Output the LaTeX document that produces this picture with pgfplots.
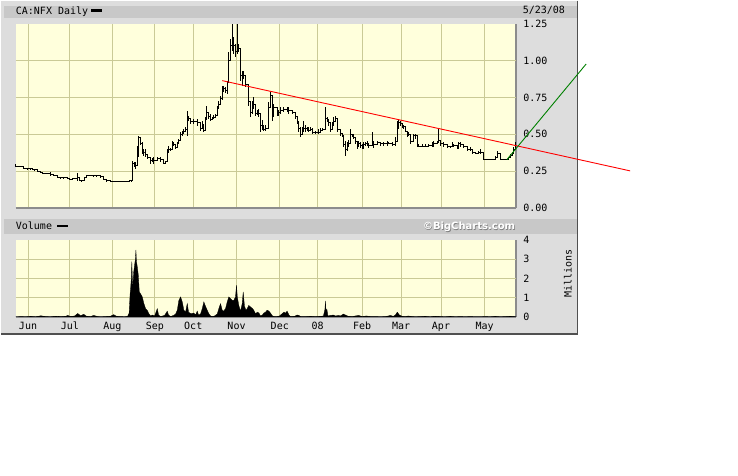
\documentclass[border=0pt]{standalone}
\usepackage{pgfplots}
\pgfplotsset{compat=1.18}
\usepackage{pgfplotstable}
\usepackage{fontspec}
\setmainfont{DejaVu Sans Mono}
\newfontfamily\bcfont{DejaVu Sans}
\definecolor{bggray}{HTML}{DDDDDD}
\definecolor{bargray}{HTML}{C8C8C8}
\definecolor{plotbg}{HTML}{FFFFDC}
\definecolor{gridcol}{HTML}{CACA96}
\definecolor{axgray}{HTML}{8C8C8C}
\definecolor{bordergray}{HTML}{505050}
\definecolor{trendgreen}{HTML}{008000}

% x = chart position (month grid: Jun=27.3 ... May=484.3), prices in CAD
\pgfplotstableread{
x lo hi c
15 0.281 0.299 0.281
19 0.281 0.281 0.281
23 0.266 0.281 0.266
27 0.266 0.268 0.266
30 0.266 0.268 0.268
32 0.262 0.272 0.262
34 0.255 0.262 0.259
37 0.249 0.259 0.249
40 0.243 0.249 0.243
42 0.232 0.246 0.236
45 0.236 0.240 0.236
48 0.236 0.240 0.236
50 0.224 0.243 0.225
53 0.220 0.225 0.220
57 0.209 0.220 0.209
60 0.205 0.212 0.207
63 0.205 0.207 0.205
67 0.198 0.205 0.198
69 0.191 0.198 0.191
72 0.198 0.205 0.202
75 0.198 0.205 0.202
77 0.186 0.236 0.205
79 0.186 0.205 0.190
81 0.182 0.190 0.186
84 0.186 0.205 0.205
86 0.213 0.222 0.220
89 0.220 0.225 0.222
93 0.218 0.225 0.220
96 0.215 0.222 0.218
100 0.209 0.216 0.213
103 0.191 0.213 0.195
106 0.184 0.191 0.186
110 0.180 0.186 0.182
114 0.178 0.182 0.180
118 0.178 0.182 0.180
122 0.180 0.184 0.180
126 0.178 0.184 0.181
129 0.180 0.188 0.184
131 0.180 0.192 0.186
132 0.198 0.322 0.299
134 0.276 0.310 0.299
135 0.268 0.315 0.290
137 0.344 0.423 0.400
138 0.344 0.491 0.480
140 0.428 0.480 0.440
142 0.367 0.446 0.380
143 0.355 0.403 0.380
145 0.344 0.403 0.360
147 0.335 0.355 0.345
150 0.299 0.344 0.320
152 0.310 0.340 0.330
153 0.299 0.344 0.320
157 0.322 0.344 0.335
160 0.310 0.344 0.330
163 0.299 0.322 0.305
165 0.310 0.320 0.315
167 0.335 0.403 0.380
168 0.390 0.423 0.400
170 0.390 0.410 0.395
172 0.423 0.457 0.440
173 0.423 0.450 0.430
175 0.403 0.423 0.410
177 0.423 0.450 0.440
178 0.437 0.471 0.455
180 0.480 0.514 0.500
182 0.491 0.525 0.505
183 0.505 0.539 0.520
185 0.514 0.547 0.530
187 0.491 0.661 0.620
188 0.593 0.627 0.610
190 0.572 0.606 0.590
193 0.572 0.606 0.590
197 0.559 0.606 0.580
200 0.525 0.559 0.540
202 0.547 0.593 0.560
203 0.514 0.572 0.525
205 0.572 0.615 0.600
206 0.615 0.694 0.650
208 0.606 0.640 0.620
210 0.593 0.640 0.600
212 0.600 0.620 0.610
213 0.610 0.630 0.615
215 0.615 0.640 0.630
217 0.627 0.694 0.680
218 0.674 0.728 0.700
220 0.706 0.762 0.740
222 0.730 0.830 0.800
223 0.785 0.830 0.810
225 0.780 0.820 0.800
227 0.776 0.864 0.850
228 0.909 1.056 1.000
230 1.022 1.148 1.100
232 1.067 1.250 1.150
233 1.047 1.157 1.100
235 1.022 1.115 1.060
237 1.047 1.250 1.080
238 1.056 1.115 1.080
240 0.864 1.022 0.900
242 0.830 0.932 0.880
243 0.877 0.932 0.900
245 0.818 0.890 0.840
248 0.694 0.751 0.720
250 0.615 0.683 0.650
252 0.640 0.728 0.680
253 0.674 0.751 0.700
255 0.627 0.661 0.640
257 0.630 0.665 0.650
258 0.615 0.674 0.640
260 0.514 0.615 0.560
262 0.530 0.600 0.560
263 0.525 0.547 0.530
265 0.525 0.560 0.540
268 0.627 0.717 0.680
270 0.742 0.785 0.760
272 0.593 0.717 0.620
273 0.615 0.706 0.680
277 0.627 0.683 0.660
278 0.627 0.665 0.650
280 0.640 0.683 0.660
283 0.650 0.683 0.670
287 0.650 0.683 0.665
288 0.640 0.683 0.660
292 0.640 0.650 0.645
295 0.606 0.640 0.620
297 0.572 0.627 0.590
298 0.514 0.593 0.540
300 0.480 0.547 0.500
302 0.505 0.547 0.520
303 0.525 0.593 0.540
305 0.514 0.560 0.540
307 0.520 0.547 0.530
308 0.514 0.547 0.525
310 0.525 0.547 0.530
312 0.505 0.540 0.515
315 0.505 0.525 0.515
318 0.505 0.535 0.515
320 0.514 0.540 0.525
322 0.525 0.540 0.530
325 0.593 0.683 0.610
327 0.581 0.615 0.600
328 0.559 0.606 0.580
330 0.514 0.581 0.530
332 0.547 0.581 0.560
333 0.572 0.615 0.590
335 0.593 0.627 0.610
337 0.514 0.547 0.530
340 0.491 0.525 0.505
342 0.480 0.505 0.490
343 0.412 0.457 0.430
345 0.356 0.457 0.400
347 0.390 0.446 0.420
348 0.420 0.460 0.440
350 0.480 0.539 0.500
352 0.480 0.505 0.490
353 0.470 0.500 0.480
355 0.437 0.471 0.450
357 0.403 0.446 0.420
358 0.420 0.457 0.440
360 0.410 0.446 0.425
362 0.403 0.437 0.420
363 0.403 0.446 0.430
365 0.423 0.446 0.435
367 0.423 0.457 0.440
368 0.410 0.437 0.425
372 0.423 0.514 0.450
373 0.410 0.457 0.430
377 0.437 0.457 0.445
380 0.423 0.446 0.435
383 0.423 0.446 0.435
387 0.423 0.457 0.445
388 0.437 0.450 0.440
392 0.423 0.446 0.430
395 0.423 0.480 0.450
397 0.457 0.593 0.560
398 0.539 0.606 0.580
400 0.559 0.593 0.570
402 0.540 0.580 0.560
403 0.539 0.559 0.550
405 0.514 0.525 0.520
407 0.480 0.514 0.500
408 0.491 0.514 0.500
410 0.437 0.471 0.450
413 0.446 0.505 0.490
415 0.471 0.505 0.490
417 0.412 0.471 0.430
418 0.412 0.437 0.420
422 0.412 0.437 0.420
425 0.412 0.437 0.420
428 0.412 0.437 0.425
432 0.412 0.446 0.430
433 0.412 0.457 0.440
437 0.437 0.457 0.445
438 0.446 0.539 0.460
440 0.423 0.446 0.440
443 0.412 0.446 0.430
447 0.412 0.423 0.415
450 0.405 0.423 0.415
452 0.412 0.446 0.430
453 0.412 0.437 0.425
457 0.403 0.412 0.405
458 0.423 0.446 0.435
460 0.412 0.446 0.430
463 0.405 0.423 0.415
467 0.390 0.412 0.400
470 0.390 0.412 0.400
472 0.367 0.390 0.375
475 0.367 0.378 0.370
478 0.367 0.390 0.375
480 0.367 0.400 0.380
483 0.327 0.356 0.330
487 0.327 0.330 0.327
492 0.327 0.330 0.327
495 0.327 0.356 0.340
497 0.344 0.390 0.370
500 0.327 0.356 0.330
503 0.327 0.330 0.327
507 0.327 0.335 0.330
508 0.335 0.344 0.340
510 0.344 0.367 0.355
512 0.356 0.380 0.370
513 0.378 0.412 0.400
515 0.400 0.446 0.420
}\price

% volume in millions
\pgfplotstableread{
x v
15 0
20 0.02
25 0.01
30 0.03
35 0.01
40 0.06
45 0.02
50 0.01
55 0.04
60 0.02
65 0.03
67 0.08
70 0.02
74 0.05
77 0.18
80 0.06
83 0.14
86 0.03
90 0.02
93 0.08
97 0.02
100 0.01
105 0.02
110 0.04
113 0.12
116 0.03
120 0.02
124 0.01
127 0.03
128.5 0.2
129.5 1.2
130 1.48
130.7 2.0
131.2 2.87
131.7 2.0
132.3 1.6
133 2.3
134 2.7
134.8 3.0
135.3 3.48
135.8 2.9
136.7 2.6
137.7 2.17
138.7 1.3
140 1.2
141.7 1.04
143.3 0.69
145 0.43
146.7 0.34
148.3 0.17
150 0.05
152 0.1
154 0.05
156.7 0.43
158 0.1
160 0.02
162 0.05
164 0.08
166.7 0.3
168 0.1
170 0.02
173 0.08
175 0.15
176.7 0.35
178.3 0.86
180 1.04
181.7 0.78
183.3 0.35
185 0.25
186.7 0.69
188 0.25
190 0.17
193.3 0.2
195 0.1
196.7 0.3
198 0.1
200 0.15
201.7 0.43
203.3 0.78
205 0.55
206.7 0.35
208.3 0.17
210 0.05
212 0.02
214 0.05
216.7 0.15
218.3 0.43
220 0.69
221.7 0.35
223 0.3
225 0.43
226.7 0.78
228.3 1.04
230 0.95
231.7 0.86
233.3 0.86
235 1.04
236 1.65
236.8 1.04
238.3 0.6
240 0.3
241.7 0.69
242.7 1.3
244 0.55
245.5 0.35
246.7 0.43
248.3 0.6
250 0.52
251.7 0.45
253.3 0.35
255 0.17
257 0.25
258.5 0.2
260 0.05
262 0.1
263.3 0.2
265 0.25
266.7 0.35
268.5 0.3
270 0.2
272 0.05
274 0.02
276.7 0.02
279 0.05
281.7 0.17
283.5 0.25
285 0.2
286.7 0.3
288.5 0.1
290 0.02
294 0.03
296.7 0.1
298.5 0.08
300 0.02
305 0.02
310 0.03
315 0.02
320 0.03
323 0.05
324.5 0.39
325 0.83
325.5 0.39
326.5 0.39
327.5 0.05
330 0.08
333 0.1
335 0.05
338 0.08
340 0.05
343 0.15
345 0.1
348 0.03
352 0.02
355 0.05
358 0.08
362 0.02
366 0.05
370 0.02
375 0.02
380 0.01
385 0.02
388 0.05
390 0.08
393 0.03
395 0.1
397 0.25
399 0.1
402 0.03
405 0.02
408 0.05
410 0.03
415 0.01
420 0.02
425 0.03
430 0.01
435 0.04
440 0.02
445 0.01
450 0.03
455 0.01
460 0.02
465 0.01
470 0.02
475 0.01
480 0.01
485 0.02
490 0.01
495 0.03
500 0.01
505 0.02
510 0.03
515 0.02
516 0
}\vol

\pgfplotsset{
  bcaxis/.style={
    scale only axis, width=501pt,
    xmin=15, xmax=516,
    axis background/.style={fill=plotbg},
    xtick={27.3,69.3,111.7,154.3,192.7,236,279.3,317.3,361.7,400.7,440.7,484.3},
    xmajorgrids,
    grid style={gridcol, line width=1pt},
    major tick length=0pt,
    axis x line*=bottom, axis y line*=right,
    axis line style={-, axgray, line width=1.5pt},
    yticklabel pos=right,
    /pgf/number format/assume math mode=true,
    tick label style={font=\fontsize{10}{12}\selectfont, text=black},
  }
}

\begin{document}
\begin{tikzpicture}
\fill[white] (0pt,0pt) rectangle (738pt,-475pt);
\fill[bggray] (0pt,0pt) rectangle (578pt,-334pt);
\fill[bargray] (3pt,-5pt) rectangle (577pt,-17pt);
\fill[bargray] (3pt,-218pt) rectangle (577pt,-233pt);
\draw[bordergray, line width=1.5pt] (577.5pt,0pt) -- (577.5pt,-333.5pt) -- (0pt,-333.5pt);

\begin{axis}[bcaxis,
  at={(15pt,-23pt)}, anchor=north west, height=184.5pt,
  ymin=0, ymax=1.25,
  xticklabels={},
  ytick={0,0.25,0.5,0.75,1,1.25},
  extra y ticks={0.25,0.5,0.75,1}, extra y tick labels={},
  extra y tick style={grid=major},
  yticklabel style={anchor=west, inner sep=0pt, xshift=7pt,
    /pgf/number format/.cd, fixed, fixed zerofill, precision=2},
  clip=false,
]
\addplot[black, line width=1pt, const plot, mark=none] table[x=x,y=c]{\price};
\addplot[draw=none, mark=none, forget plot,
  error bars/.cd, y dir=both, y explicit, error mark=none,
  error bar style={draw=black, solid, line width=1pt}]
  table[x=x, y=c, y error plus expr=\thisrow{hi}-\thisrow{c},
        y error minus expr=\thisrow{c}-\thisrow{lo}]{\price};
\addplot[red, line width=0.9pt, mark=none] coordinates {(221.7,0.864) (630,0.252)};
\addplot[trendgreen, line width=0.9pt, mark=none] coordinates {(506.7,0.329) (586,0.977)};
\end{axis}

\begin{axis}[bcaxis,
  at={(15pt,-239.5pt)}, anchor=north west, height=77pt,
  ymin=0, ymax=4,
  xticklabels={Jun,Jul,Aug,Sep,Oct,Nov,Dec,08,Feb,Mar,Apr,May},
  xticklabel style={anchor=base, inner sep=0pt, yshift=-12.5pt},
  ytick={0,1,2,3,4},
  extra y ticks={1,2,3}, extra y tick labels={},
  extra y tick style={grid=major},
  yticklabel style={anchor=west, inner sep=0pt, xshift=7pt},
  ylabel={Millions},
  ylabel style={at={(rel axis cs:1,0.5)}, anchor=center, rotate=0, xshift=5pt, yshift=-51.7pt, inner sep=0pt},
]
\addplot[fill=black, draw=black, line width=0.3pt, mark=none] table[x=x,y=v]{\vol} \closedcycle;
\end{axis}

\node[anchor=base west, inner sep=0pt] at (15pt,-13.3pt) {CA:NFX Daily};
\fill[black] (90.7pt,-8.3pt) rectangle (101.7pt,-11pt);
\node[anchor=base east, inner sep=0pt] at (565pt,-12.7pt) {5/23/08};
\node[anchor=base west, inner sep=0pt] at (15pt,-229pt) {Volume};
\fill[black] (56pt,-224pt) rectangle (67.3pt,-226.7pt);
\node[anchor=base east, inner sep=0pt, text=gray] at (515.7pt,-229.7pt) {\bcfont\bfseries ©BigCharts.com};
\node[anchor=base east, inner sep=0pt, text=white] at (515pt,-229pt) {\bcfont\bfseries ©BigCharts.com};
\end{tikzpicture}
\end{document}
